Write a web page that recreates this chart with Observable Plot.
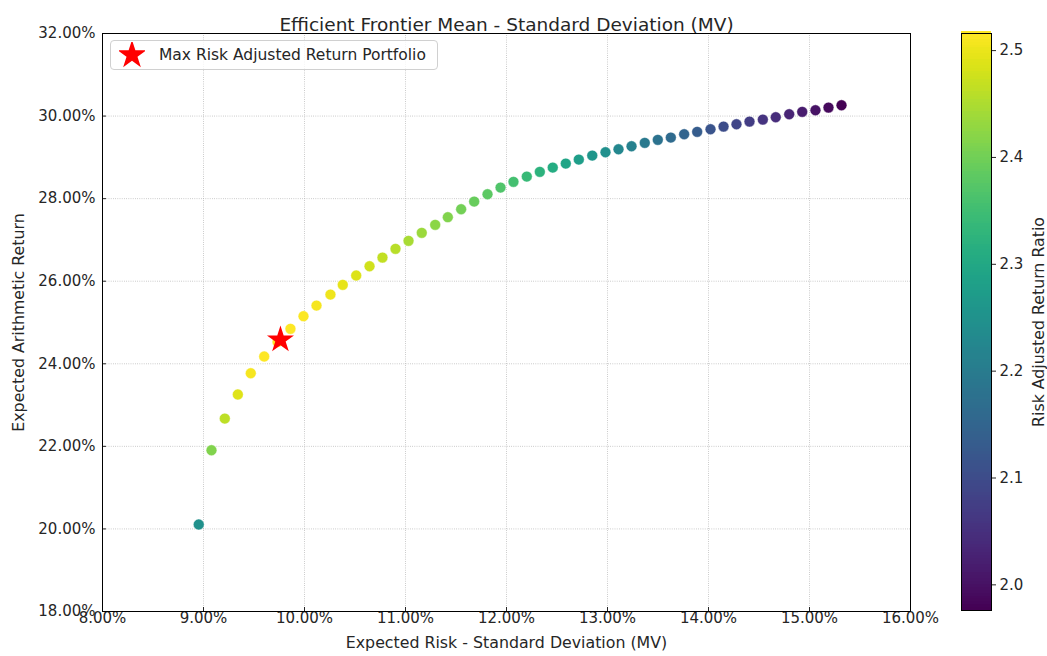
<!DOCTYPE html>
<html>
<head>
<meta charset="utf-8">
<script src="https://cdn.jsdelivr.net/npm/d3@7"></script>
<script src="https://cdn.jsdelivr.net/npm/@observablehq/plot@0.6"></script>
<style>
  html, body { margin: 0; padding: 0; background: #fff; }
  #wrap { position: relative; width: 1047px; height: 656px; font-family: "DejaVu Sans", sans-serif; }
  #main, #cbar { position: absolute; top: 0; }
  #main { left: 0; }
  #cbar { left: 960px; }
  #legend { position: absolute; left: 110px; top: 40px; width: 328px; height: 30px; box-sizing: border-box;
    border: 1px solid #d0d0d0; border-radius: 4px; background: rgba(255,255,255,0.8);
    display: flex; align-items: center; font-size: 15.5px; color: #262626; }
  #legend svg { margin-left: 8px; margin-right: 14px; }
</style>
</head>
<body>
<div id="wrap">
  <div id="main"></div>
  <div id="cbar"></div>
  <div id="legend"></div>
</div>
<script>
// ---- data ----
const risk = [8.953, 9.079, 9.211, 9.340, 9.468, 9.601, 9.733, 9.861, 9.990, 10.119,
  10.257, 10.379, 10.512, 10.644, 10.772, 10.901, 11.030, 11.161, 11.294, 11.419,
  11.551, 11.680, 11.812, 11.941, 12.069, 12.201, 12.330, 12.458, 12.587, 12.716,
  12.849, 12.980, 13.109, 13.238, 13.369, 13.498, 13.627, 13.759, 13.888, 14.020,
  14.149, 14.277, 14.406, 14.538, 14.666, 14.799, 14.928, 15.059, 15.188, 15.317];
const ret = [20.107, 21.906, 22.674, 23.256, 23.771, 24.176, 24.530, 24.847, 25.152, 25.411,
  25.677, 25.912, 26.138, 26.363, 26.573, 26.784, 26.978, 27.172, 27.366, 27.550,
  27.743, 27.930, 28.107, 28.269, 28.407, 28.535, 28.649, 28.753, 28.850, 28.947,
  29.044, 29.124, 29.196, 29.269, 29.351, 29.424, 29.480, 29.560, 29.618, 29.681,
  29.746, 29.802, 29.867, 29.915, 29.972, 30.044, 30.102, 30.141, 30.206, 30.262];
const ratio = [2.246, 2.413, 2.462, 2.490, 2.508, 2.514, 2.516, 2.515, 2.513, 2.509,
  2.503, 2.497, 2.487, 2.477, 2.467, 2.457, 2.446, 2.435, 2.423, 2.413,
  2.402, 2.391, 2.380, 2.367, 2.354, 2.339, 2.324, 2.308, 2.292, 2.276,
  2.260, 2.244, 2.227, 2.211, 2.195, 2.180, 2.163, 2.148, 2.133, 2.117,
  2.102, 2.087, 2.073, 2.058, 2.044, 2.030, 2.017, 2.002, 1.989, 1.976];
const starRisk = [9.762];
const starRet = [24.58];
const starLabel = "Max Risk Adjusted Return Portfolio";
const xTicks = [8, 9, 10, 11, 12, 13, 14, 15, 16];
const yTicks = [18, 20, 22, 24, 26, 28, 30, 32];
const cbTicks = [2.0, 2.1, 2.2, 2.3, 2.4, 2.5];
const colorDomain = [1.976, 2.516];
const title = "Efficient Frontier Mean - Standard Deviation (MV)";
const xLabel = "Expected Risk - Standard Deviation (MV)";
const yLabel = "Expected Arithmetic Return";
const cLabel = "Risk Adjusted Return Ratio";

const frontier = risk.map((r, i) => ({risk: r, ret: ret[i], ratio: ratio[i]}));
const starData = starRisk.map((r, i) => ({risk: r, ret: starRet[i]}));
const pct = d => d.toFixed(2) + "%";
const font = "DejaVu Sans, sans-serif";
const txt = "#262626";
const tickFs = 15, labelFs = 15.8;

const colorOpts = {type: "linear", scheme: "viridis", domain: colorDomain, clamp: true};

const main = Plot.plot({
  width: 1047, height: 656,
  marginLeft: 102, marginRight: 137, marginTop: 33, marginBottom: 45,
  style: {fontFamily: font, fontSize: tickFs + "px", color: txt, background: "transparent", overflow: "visible"},
  x: {domain: [8, 16]},
  y: {domain: [18, 32]},
  color: colorOpts,
  marks: [
    Plot.gridX(xTicks, {stroke: "#b0b0b0", strokeOpacity: 1, strokeWidth: 0.8, strokeDasharray: "0.8,1.4"}),
    Plot.gridY(yTicks, {stroke: "#b0b0b0", strokeOpacity: 1, strokeWidth: 0.8, strokeDasharray: "0.8,1.4"}),
    Plot.axisX(xTicks, {tickSize: -4, tickFormat: () => "", label: null}),
    Plot.axisY(yTicks, {tickSize: -4, tickFormat: () => "", label: null}),
    Plot.text(xTicks, {x: d => d, frameAnchor: "bottom", dy: 11, text: pct, fontSize: tickFs, fill: txt}),
    Plot.text(yTicks, {y: d => d, frameAnchor: "left", textAnchor: "end", dx: -7, text: pct, fontSize: tickFs, fill: txt}),
    Plot.dot(frontier, {x: "risk", y: "ret", fill: "ratio", r: 5.4, stroke: "white", strokeWidth: 0.4}),
    Plot.dot(starData, {x: "risk", y: "ret", symbol: "star", fill: "red", r: 8.5}),
    Plot.frame({stroke: "#000", strokeWidth: 1}),
    Plot.text([title], {frameAnchor: "top", dy: -16, fontSize: 18.5, fill: txt}),
    Plot.text([xLabel], {frameAnchor: "bottom", dy: 36, fontSize: labelFs, fill: txt}),
    Plot.text([yLabel], {frameAnchor: "left", textAnchor: "middle", dx: -84, rotate: -90, fontSize: labelFs, fill: txt})
  ]
});
document.getElementById("main").appendChild(main);

const nSteps = 200;
const dv = (colorDomain[1] - colorDomain[0]) / nSteps;
const steps = d3.range(nSteps).map(i => colorDomain[0] + dv * i);
const cbar = Plot.plot({
  width: 87, height: 656,
  marginLeft: 1, marginRight: 56, marginTop: 33, marginBottom: 46,
  style: {fontFamily: font, fontSize: tickFs + "px", color: txt, background: "transparent", overflow: "visible"},
  y: {domain: colorDomain},
  color: colorOpts,
  marks: [
    Plot.rectY(steps, {y1: d => d, y2: d => d + dv * 1.6, fill: d => d + dv / 2, shapeRendering: "crispEdges"}),
    Plot.frame({stroke: "#000", strokeWidth: 1}),
    Plot.axisY(cbTicks, {anchor: "right", tickFormat: () => "", tickSize: 4, label: null}),
    Plot.text(cbTicks, {y: d => d, frameAnchor: "right", textAnchor: "start", dx: 8, text: d => d.toFixed(1), fontSize: tickFs, fill: txt}),
    Plot.text([cLabel], {frameAnchor: "right", textAnchor: "middle", dx: 47, rotate: -90, fontSize: labelFs, fill: txt})
  ]
});
document.getElementById("cbar").appendChild(cbar);

// legend
const leg = document.getElementById("legend");
const ls = d3.create("svg").attr("width", 26).attr("height", 26);
ls.append("path").attr("transform", "translate(13,13)")
  .attr("d", d3.symbol(d3.symbolStar, Math.PI * 9 * 9)()).attr("fill", "red");
leg.appendChild(ls.node());
const sp = document.createElement("span");
sp.textContent = starLabel;
leg.appendChild(sp);
</script>
</body>
</html>
